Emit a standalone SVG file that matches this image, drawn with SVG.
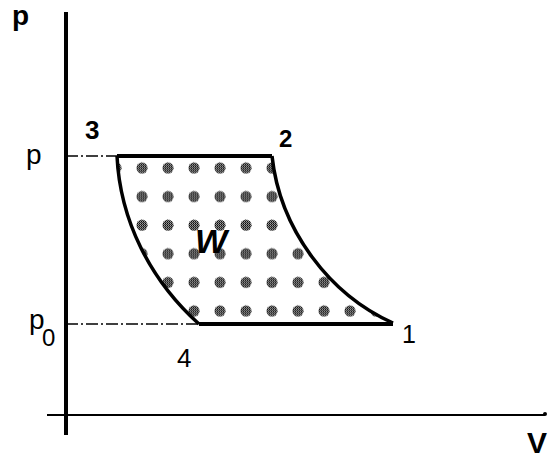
<svg xmlns="http://www.w3.org/2000/svg" width="551" height="459" viewBox="0 0 551 459">
<style>
.lbl{font-family:"Liberation Sans",Arial,sans-serif;fill:#000}
.b{font-weight:bold}
.dd{stroke:#000;stroke-width:1.3;fill:none;stroke-dasharray:12 3 2 3}
.cyc{stroke:#000;fill:none;stroke-linejoin:miter}
</style>
<defs>
<pattern id="chk" patternUnits="userSpaceOnUse" width="2" height="2">
<rect x="0" y="0" width="1" height="1" fill="#000"/>
<rect x="1" y="1" width="1" height="1" fill="#000"/>
</pattern>
<pattern id="dots" patternUnits="userSpaceOnUse" x="129" y="154" width="26" height="28.6">
<circle cx="13" cy="14" r="5.5" fill="#aaa"/>
<circle cx="13" cy="14" r="5.5" fill="url(#chk)"/>
</pattern>
</defs>
<rect width="551" height="459" fill="#fff"/>
<g id="axes">
<line x1="66" y1="12" x2="66" y2="435" stroke="#000" stroke-width="4"/>
<line x1="47" y1="415" x2="545" y2="415" stroke="#000" stroke-width="2"/>
<circle cx="545" cy="414" r="2" fill="#000"/>
</g>
<g id="work-area">
<path d="M117,156 L272,156 C280,230 330,295 393,323 L199,324 C150,280 120,220 117,156 Z" fill="url(#dots)"/>
</g>
<g id="connectors">
<line class="dd" x1="66" y1="156" x2="117" y2="156"/>
<line class="dd" x1="66" y1="324" x2="199" y2="324"/>
<path class="cyc" d="M117,156 L272,156" stroke-width="4"/>
<path class="cyc" d="M272,156 C280,230 330,295 393,323" stroke-width="3.5"/>
<path class="cyc" d="M393,324 L199,324" stroke-width="4"/>
<path class="cyc" d="M199,324 C150,280 120,220 117,156" stroke-width="3.5"/>
</g>
<g id="labels">
<text class="lbl b" x="12" y="25" font-size="28">p</text>
<text class="lbl" x="26" y="164" font-size="28">p</text>
<text class="lbl b" x="85" y="139" font-size="26">3</text>
<text class="lbl b" x="279" y="147" font-size="24">2</text>
<text class="lbl" x="29" y="329" font-size="28">p</text>
<text class="lbl" x="42" y="346" font-size="24">0</text>
<text class="lbl" x="177" y="367" font-size="26">4</text>
<text class="lbl" x="402" y="343" font-size="25">1</text>
<text class="lbl b" x="527" y="453" font-size="30">V</text>
<text class="lbl b" x="211" y="253" font-size="34" text-anchor="middle" font-style="italic">W</text>
</g>
</svg>
